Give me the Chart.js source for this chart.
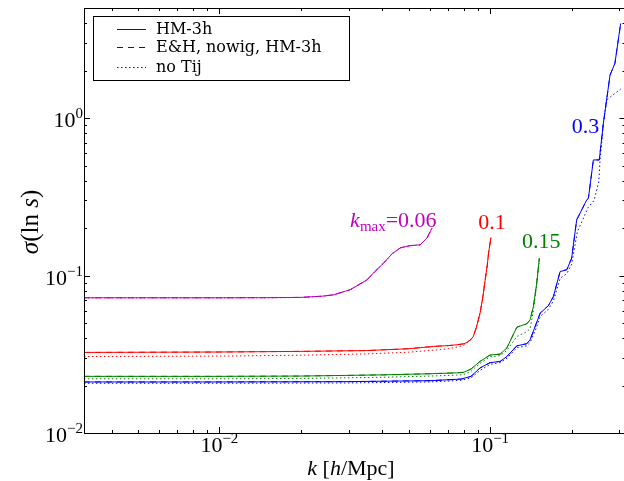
<!DOCTYPE html>
<html>
<head>
<meta charset="utf-8">
<script src="https://cdn.jsdelivr.net/npm/chart.js@4"></script>
<style>
  html, body { margin: 0; padding: 0; background: #fff; overflow: hidden; }
  #wrap { width: 626px; height: 481px; }
</style>
</head>
<body>
<div id="wrap"><canvas id="sigma-chart" width="626" height="481"></canvas></div>
<script>
// values: k in h/Mpc, sigma(ln s)
const magK = [0.00316, 0.01, 0.015, 0.02, 0.024, 0.0264, 0.0304, 0.0351, 0.0375, 0.0404, 0.0435, 0.0466, 0.0488, 0.0507, 0.0552, 0.0584, 0.061];
const magHM = [0.0723, 0.0723, 0.0724, 0.0727, 0.074, 0.0755, 0.0813, 0.094, 0.106, 0.12, 0.138, 0.150, 0.153, 0.155, 0.157, 0.173, 0.200];
const magNoTij = [0.0722, 0.0722, 0.0723, 0.0726, 0.0739, 0.0754, 0.0812, 0.0938, 0.1058, 0.1198, 0.1378, 0.1498, 0.1528, 0.1548, 0.1568, 0.1728, 0.1998];

const redK = [0.00316, 0.01, 0.02, 0.035, 0.05, 0.062, 0.07, 0.076, 0.08, 0.082, 0.0845, 0.0867, 0.089, 0.0918, 0.094, 0.0959, 0.0975, 0.0987, 0.1007];
const redHM = [0.0325, 0.0327, 0.033, 0.0334, 0.0343, 0.0355, 0.0359, 0.0364, 0.0369, 0.0376, 0.039, 0.041, 0.047, 0.0578, 0.073, 0.094, 0.115, 0.139, 0.175];
const redNoTij = [0.0306, 0.0308, 0.0312, 0.0318, 0.0326, 0.0336, 0.0343, 0.0352, 0.0362, 0.0372, 0.0388, 0.041, 0.047, 0.0578, 0.073, 0.094, 0.115, 0.139, 0.175];

const greenK = [0.00316, 0.01, 0.02, 0.04, 0.06, 0.075, 0.0798, 0.085, 0.0918, 0.1, 0.1089, 0.1153, 0.1255, 0.1365, 0.1405, 0.1445, 0.1486, 0.152];
const greenHM = [0.0229, 0.0229, 0.023, 0.0234, 0.0238, 0.0241, 0.0243, 0.0255, 0.0285, 0.0313, 0.0317, 0.0347, 0.047, 0.0494, 0.0524, 0.0636, 0.0893, 0.129];
const greenNoTij = [0.0221, 0.0221, 0.0222, 0.0226, 0.023, 0.0233, 0.0235, 0.0247, 0.0277, 0.0305, 0.031, 0.0335, 0.041, 0.044, 0.046, 0.06, 0.088, 0.127];

const blueK = [0.00316, 0.01, 0.03, 0.06, 0.078, 0.085, 0.0918, 0.1, 0.1089, 0.1153, 0.1255, 0.1365, 0.1405, 0.147, 0.1531, 0.164, 0.1713, 0.1813, 0.192, 0.2, 0.2088, 0.2275, 0.2307, 0.2406, 0.253, 0.262, 0.2773, 0.289, 0.3035];
const blueHM = [0.0211, 0.0211, 0.0212, 0.0215, 0.022, 0.0229, 0.0259, 0.028, 0.0285, 0.0306, 0.0358, 0.0369, 0.0391, 0.048, 0.0578, 0.0643, 0.0736, 0.106, 0.109, 0.129, 0.226, 0.303, 0.31, 0.543, 0.543, 0.929, 1.88, 2.23, 4.0];
const blueDotK = [0.00316, 0.01, 0.03, 0.06, 0.078, 0.085, 0.0918, 0.1, 0.1089, 0.1153, 0.1255, 0.1365, 0.1405, 0.147, 0.1531, 0.164, 0.1713, 0.1813, 0.192, 0.2, 0.21, 0.23, 0.242, 0.252, 0.2547, 0.2636, 0.27, 0.285, 0.3035];
const blueNoTij = [0.0207, 0.0207, 0.0208, 0.0211, 0.0216, 0.0224, 0.025, 0.0273, 0.028, 0.0298, 0.0348, 0.0358, 0.0376, 0.045, 0.055, 0.061, 0.069, 0.096, 0.103, 0.118, 0.19, 0.27, 0.3, 0.396, 0.543, 1.02, 1.31, 1.41, 1.53];

const legendLabels = ["HM-3h", "E&H, nowig, HM-3h", "no Tij"];
// curve labels: text, k, sigma of the left baseline point
const curveLabels = [
  { main: "0.1", k: 0.0903, s: 0.199, color: "#ff0000" },
  { main: "0.15", k: 0.131, s: 0.1495, color: "#008000" },
  { main: "0.3", k: 0.2002, s: 0.81, color: "#0000ff" },
];
const kmaxLabel = { k: 0.0304, s: 0.205, value: "=0.06", color: "#bf00bf" };

const xTitle = ["k", " [", "h", "/Mpc]"];
const yTitle = ["σ", "(ln ", "s", ")"];

const DOTTED = [1.5, 2.5];
const DASHED = [6, 5];
const MATH = "Liberation Serif";

function pts(ks, vals) {
  return ks.map((k, i) => ({ x: k, y: vals[i] }));
}

function series(ks, vals, color, dash) {
  return {
    data: pts(ks, vals),
    borderColor: color,
    borderWidth: 1,
    borderDash: dash,
    pointRadius: 0,
    tension: 0,
    fill: false,
  };
}

function logTicks(min, max) {
  const out = [];
  for (let n = Math.floor(Math.log10(min)); n <= Math.ceil(Math.log10(max)); n++) {
    for (let m = 1; m <= 9; m++) {
      const v = m * Math.pow(10, n);
      if (v >= min * 0.999 && v <= max * 1.001) out.push({ v, n, major: m === 1 });
    }
  }
  return out;
}

// draws 10^n, returns nothing; anchor is "center" or "right"
function drawPow(ctx, n, x, y, anchor) {
  const exp = n < 0 ? "\u2212" + Math.abs(n) : String(n);
  ctx.font = "22px '" + MATH + "'";
  const wm = ctx.measureText("10").width;
  ctx.font = "15px '" + MATH + "'";
  const we = ctx.measureText(exp).width;
  let left = anchor === "center" ? x - (wm + we) / 2 : x - wm - we;
  ctx.textAlign = "left";
  ctx.textBaseline = "alphabetic";
  ctx.font = "22px '" + MATH + "'";
  ctx.fillText("10", left, y);
  ctx.font = "15px '" + MATH + "'";
  ctx.fillText(exp, left + wm, y - 9);
}

// mixed italic / upright text, pieces alternate italic,upright,...
function mixedWidth(ctx, parts, size) {
  let w = 0;
  parts.forEach((p, i) => {
    ctx.font = (i % 2 === 0 ? "italic " : "") + size + "px '" + MATH + "'";
    w += ctx.measureText(p).width;
  });
  return w;
}
function drawMixed(ctx, parts, size, x, y) {
  let cx = x;
  parts.forEach((p, i) => {
    ctx.font = (i % 2 === 0 ? "italic " : "") + size + "px '" + MATH + "'";
    ctx.fillText(p, cx, y);
    cx += ctx.measureText(p).width;
  });
}

const decorations = {
  id: "decorations",
  afterDraw(chart) {
    const { ctx, chartArea: a, scales } = chart;
    const xs = scales.x;
    const ys = scales.y;
    ctx.save();
    ctx.strokeStyle = "#000";
    ctx.fillStyle = "#000";
    ctx.lineWidth = 1;
    ctx.setLineDash([]);
    ctx.strokeRect(a.left + 0.5, a.top + 0.5, a.right - a.left, a.bottom - a.top);

    ctx.beginPath();
    logTicks(xs.min, xs.max).forEach((t) => {
      const px = Math.round(xs.getPixelForValue(t.v)) + 0.5;
      const len = t.major ? 6 : 3;
      ctx.moveTo(px, a.bottom); ctx.lineTo(px, a.bottom - len);
      ctx.moveTo(px, a.top); ctx.lineTo(px, a.top + len);
    });
    logTicks(ys.min, ys.max).forEach((t) => {
      const py = Math.round(ys.getPixelForValue(t.v)) + 0.5;
      const len = t.major ? 6 : 3;
      ctx.moveTo(a.left, py); ctx.lineTo(a.left + len, py);
      ctx.moveTo(a.right, py); ctx.lineTo(a.right - len, py);
    });
    ctx.stroke();

    // tick labels
    logTicks(xs.min, xs.max).filter((t) => t.major).forEach((t) => {
      drawPow(ctx, t.n, xs.getPixelForValue(t.v), a.bottom + 19, "center");
    });
    logTicks(ys.min, ys.max).filter((t) => t.major).forEach((t) => {
      drawPow(ctx, t.n, a.left - 1, ys.getPixelForValue(t.v) + 9, "right");
    });

    // axis titles
    ctx.textAlign = "left";
    ctx.textBaseline = "alphabetic";
    const wx = mixedWidth(ctx, xTitle, 22);
    drawMixed(ctx, xTitle, 22, 351 - wx / 2, 475);
    ctx.save();
    ctx.translate(38, 222);
    ctx.rotate(-Math.PI / 2);
    const wy = mixedWidth(ctx, yTitle, 25);
    drawMixed(ctx, yTitle, 25, -wy / 2, 0);
    ctx.restore();

    // curve labels
    curveLabels.forEach((l) => {
      ctx.fillStyle = l.color;
      ctx.font = "22px '" + MATH + "'";
      ctx.fillText(l.main, xs.getPixelForValue(l.k), ys.getPixelForValue(l.s));
    });
    ctx.fillStyle = kmaxLabel.color;
    let lx = xs.getPixelForValue(kmaxLabel.k);
    const ly = ys.getPixelForValue(kmaxLabel.s);
    ctx.font = "italic 22px '" + MATH + "'";
    ctx.fillText("k", lx, ly);
    lx += ctx.measureText("k").width;
    ctx.font = "15px '" + MATH + "'";
    ctx.fillText("max", lx, ly + 4);
    lx += ctx.measureText("max").width;
    ctx.font = "22px '" + MATH + "'";
    ctx.fillText(kmaxLabel.value, lx, ly);

    // legend
    ctx.fillStyle = "#fff";
    ctx.fillRect(93.5, 16.5, 256, 64);
    ctx.strokeStyle = "#000";
    ctx.strokeRect(93.5, 16.5, 256, 64);
    const rows = [29.5, 47.5, 67.5];
    const dashes = [[], DASHED, DOTTED];
    legendLabels.forEach((lab, i) => {
      ctx.strokeStyle = "#0000ff";
      ctx.setLineDash(dashes[i]);
      ctx.beginPath();
      ctx.moveTo(117, rows[i]);
      ctx.lineTo(146, rows[i]);
      ctx.stroke();
      ctx.setLineDash([]);
      ctx.fillStyle = "#000";
      ctx.font = "16px 'DejaVu Serif'";
      ctx.textBaseline = "middle";
      ctx.fillText(lab, 156, rows[i]);
    });
    ctx.restore();
  },
};

const colors = { mag: "#bf00bf", red: "#ff0000", green: "#008000", blue: "#0000ff" };

const datasets = [
  series(magK, magHM, colors.mag, []),
  series(redK, redHM, colors.red, []),
  series(greenK, greenHM, colors.green, []),
  series(blueK, blueHM, colors.blue, []),
  series(magK, magHM, colors.mag, DASHED),
  series(redK, redHM, colors.red, DASHED),
  series(greenK, greenHM, colors.green, DASHED),
  series(blueK, blueHM, colors.blue, DASHED),
  series(magK, magNoTij, colors.mag, DOTTED),
  series(redK, redNoTij, colors.red, DOTTED),
  series(greenK, greenNoTij, colors.green, DOTTED),
  series(blueDotK, blueNoTij, colors.blue, DOTTED),
];

new Chart(document.querySelector("#sigma-chart").getContext("2d"), {
  type: "line",
  data: { datasets },
  options: {
    responsive: false,
    animation: false,
    devicePixelRatio: 1,
    layout: { padding: { left: 0, top: 8, right: 0.5, bottom: 0 } },
    plugins: { legend: { display: false }, tooltip: { enabled: false } },
    scales: {
      x: {
        type: "logarithmic",
        min: Math.pow(10, -2.5),
        max: Math.pow(10, -0.5),
        grid: { display: false },
        border: { display: false },
        ticks: { display: false },
        afterFit: (scale) => { scale.height = 48; },
      },
      y: {
        type: "logarithmic",
        min: 0.01,
        max: Math.pow(10, 0.7),
        grid: { display: false },
        border: { display: false },
        ticks: { display: false },
        afterFit: (scale) => { scale.width = 84; },
      },
    },
  },
  plugins: [decorations],
});
</script>
</body>
</html>
